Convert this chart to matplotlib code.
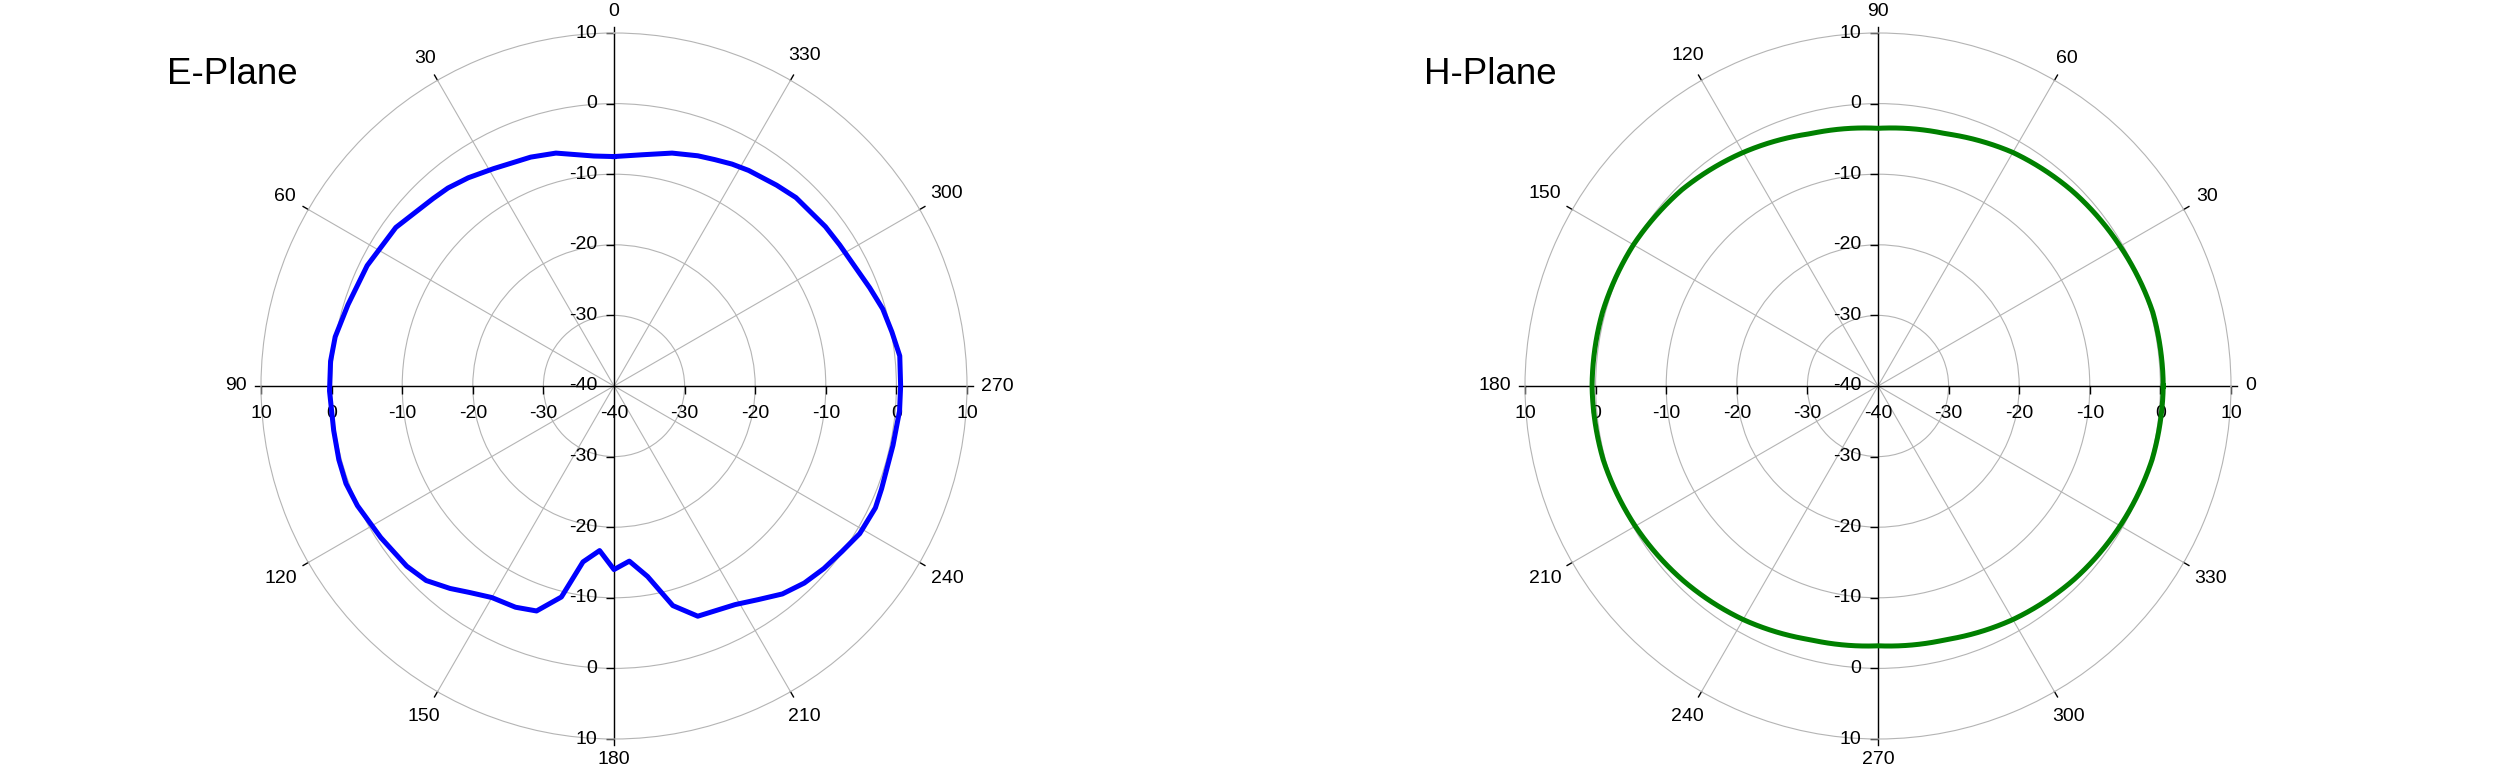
import numpy as np
import matplotlib.pyplot as plt
from matplotlib.lines import TICKLEFT, TICKDOWN

plt.rcParams['font.family'] = ['Liberation Sans', 'DejaVu Sans']

# E-plane pattern, angle (deg) / gain (dB)
e_angle = [0, 5, 14, 20, 24, 29, 35, 40, 44, 54, 64, 73, 80, 85, 91, 99, 105, 110,
           115, 123, 131, 136, 141, 145, 150, 156, 161, 166, 170, 175, 180, 185, 190,
           195, 200, 204, 209, 214, 219, 224, 229, 234, 239, 245, 249, 258, 265, 270,
           276, 281, 286, 291, 302, 307, 316, 321, 328, 332, 336, 340, 346, 353, 360]
e_gain = [-7.5, -7.3, -6.0, -5.5, -5.3, -4.8, -4.0, -3.4, -3.1, -1.8, -1.1, -0.6, 0.1,
          0.3, 0.3, 0.2, 0.35, 0.4, 0.1, -0.6, -1.1, -1.7, -3.1, -4.3, -5.4, -5.7,
          -6.3, -9.2, -14.7, -16.6, -14.0, -15.1, -12.6, -7.8, -5.3, -5.1, -4.6, -3.5,
          -2.1, -1.2, -0.6, -0.1, 0.6, 0.85, 0.6, 0.4, 0.6, 0.6, 0.7, 0.1, -0.4, -1.2,
          -2.3, -2.5, -2.9, -3.4, -4.0, -4.4, -4.9, -5.3, -6.0, -7.0, -7.5]

# H-plane pattern
h_angle = [0, 15, 30, 45, 60, 75, 90, 105, 120, 135, 150, 165, 180, 195, 210, 225,
           240, 255, 270, 285, 300, 315, 330, 345, 360]
h_gain = [0.4, 0.3, -0.4, -1.0, -1.8, -3.0, -3.5, -3.0, -1.8, -0.7, 0.0, 0.4, 0.5,
          0.3, -0.3, -1.0, -1.8, -2.8, -3.2, -2.8, -1.8, -1.0, -0.4, 0.2, 0.4]

ring_vals = [-40, -30, -20, -10, 0, 10]
angle_ticks = list(range(0, 360, 30))

PX = 72.0 / 100  # points per pixel at dpi 100
FS = 14
GRID = '#b4b4b4'


def setup(ax, zero, up, down, left, right, alpha0):
    ax.set_theta_zero_location(zero)
    ax.set_theta_direction(1)
    ax.set_rlim(-40, 10)
    ax.set_rgrids([-30, -20, -10, 0], labels=[])
    ax.set_thetagrids(angle_ticks, labels=[])
    ax.grid(color=GRID, lw=0.8)
    ax.spines['polar'].set_color(GRID)
    ax.spines['polar'].set_linewidth(0.8)
    ax.tick_params(axis='both', length=0)

    # small black tick marks outside the outer ring
    for a in angle_ticks:
        t = np.radians(a)
        ax.plot([t, t], [10, 10.85], color='black', lw=1.0, clip_on=False, zorder=2.5)

    # black cross axes
    for th in (up, down, left, right):
        t = np.radians(th)
        ax.plot([t, t], [-40, 10], color='black', lw=1.0, zorder=2.5)
    tv = [-30, -20, -10, 0, 10]
    for th in (up, down):
        ax.plot(np.full(len(tv), np.radians(th)), tv, ls='none', marker=TICKLEFT,
                ms=5.5, mec='black', mew=1.0, clip_on=False, zorder=2.5)
    for th in (left, right):
        ax.plot(np.full(len(tv), np.radians(th)), tv, ls='none', marker=TICKDOWN,
                ms=5.5, mec='black', mew=1.0, clip_on=False, zorder=2.5)

    # radial labels
    for th, vals in ((up, ring_vals), (down, ring_vals[1:])):
        for v in vals:
            ax.annotate(str(v), (np.radians(th), v), xytext=(-12, 0),
                        textcoords='offset points', ha='right', va='center',
                        fontsize=FS, annotation_clip=False)
    for th, vals in ((left, ring_vals), (right, ring_vals[1:])):
        for v in vals:
            ax.annotate(str(v), (np.radians(th), v), xytext=(0, -20),
                        textcoords='offset points', ha='center', va='center',
                        fontsize=FS, annotation_clip=False)

    # angle labels
    for a in angle_ticks:
        s = str(a)
        al = np.radians(alpha0 + a)
        hw = len(s) * 0.556 * FS / PX / 2
        hh = 7
        d = (14 + abs(np.cos(al)) * hw + abs(np.sin(al)) * hh) * PX
        ax.annotate(s, (np.radians(a), 10), xytext=(d * np.cos(al), d * np.sin(al)),
                    textcoords='offset points', ha='center', va='center',
                    fontsize=FS, annotation_clip=False)


fig = plt.figure(figsize=(25, 7.8), dpi=100)
axE = fig.add_axes([261 / 2500, 41 / 780, 706 / 2500, 706 / 780], projection='polar')
axH = fig.add_axes([1525 / 2500, 41 / 780, 706 / 2500, 706 / 780], projection='polar')

setup(axE, 'N', 0, 180, 90, 270, 90)
setup(axH, 'E', 90, 270, 180, 0, 0)

axE.plot(np.radians(e_angle), e_gain, color='#0000ff', lw=3.6, zorder=3)
lineH, = axH.plot(np.radians(h_angle), h_gain, color='#008000', lw=3.6, zorder=3)
# draw the H-plane trace as arcs between the measured points
lineH.get_path()._interpolation_steps = 30

fig.text(167 / 2500, 1 - 75 / 780, 'E-Plane', fontsize=26.5, ha='left', va='center')
fig.text(1424 / 2500, 1 - 75 / 780, 'H-Plane', fontsize=26.5, ha='left', va='center')

fig.savefig('out.png', dpi=100)
